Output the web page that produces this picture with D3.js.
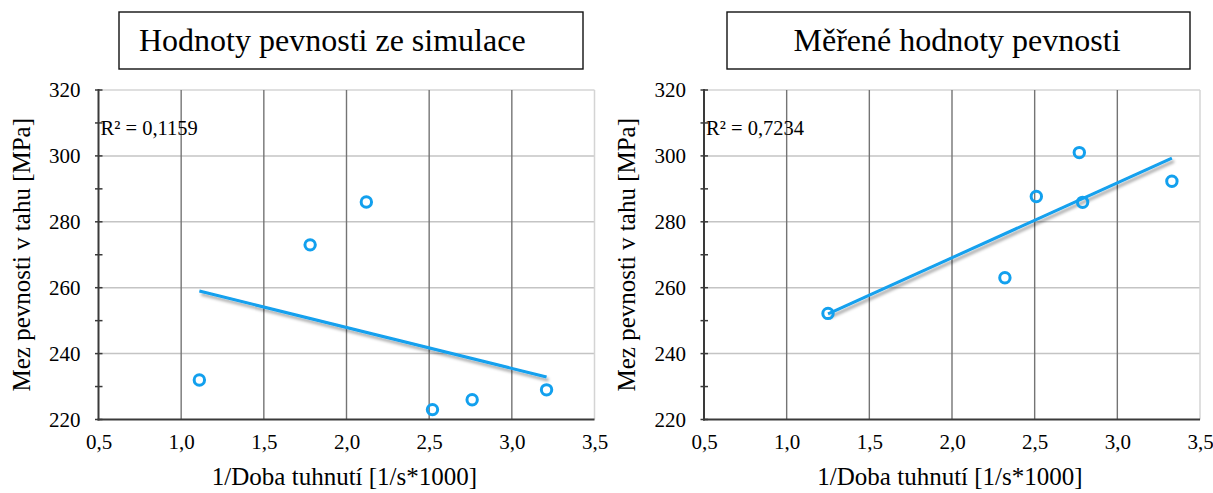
<!DOCTYPE html>
<html>
<head>
<meta charset="utf-8">
<script src="https://cdn.jsdelivr.net/npm/d3@7"></script>
<style>
  body { margin: 0; background: #fff; }
  svg { display: block; }
  text { font-family: "Liberation Serif", "Times New Roman", serif; fill: #000; }
</style>
</head>
<body>
<svg id="chart" width="1213" height="493"></svg>
<script>
// Axis ticks
const xTicks = [0.5, 1.0, 1.5, 2.0, 2.5, 3.0, 3.5];
const yTicks = [220, 240, 260, 280, 300, 320];
const yMinorTicks = [230, 250, 270, 290, 310];

// Texts
const panelTitles = ["Hodnoty pevnosti ze simulace", "Měřené hodnoty pevnosti"];
const xAxisTitle = "1/Doba tuhnutí [1/s*1000]";
const yAxisTitle = "Mez pevnosti v tahu [MPa]";
const r2Labels = ["R\u00B2 = 0,1159", "R\u00B2 = 0,7234"];

// Simulated strength vs. 1/solidification time
const simX = [1.11, 1.78, 2.12, 2.52, 2.76, 3.21];
const simY = [232, 273, 286, 223, 226, 229];

// Measured strength vs. 1/solidification time
const measX = [1.25, 2.32, 2.51, 2.77, 2.79, 3.33];
const measY = [252.2, 263, 287.7, 301, 285.9, 292.3];

const BLUE = "#12a0ee";
const SERIF = '"Liberation Serif", "Times New Roman", serif';
const svg = d3.select("#chart");
const fmt = v => d3.format(".1f")(v).replace(".", ",");

// soft shadow under the trend lines
svg.append("defs").append("filter")
  .attr("id", "trendShadow")
  .attr("filterUnits", "userSpaceOnUse")
  .attr("x", 0).attr("y", 0).attr("width", 1213).attr("height", 493)
  .append("feDropShadow")
  .attr("dx", 2).attr("dy", 3).attr("stdDeviation", 1.6)
  .attr("flood-color", "#000").attr("flood-opacity", 0.35);

// least-squares line through the points
function linearFit(xs, ys) {
  const mx = d3.mean(xs), my = d3.mean(ys);
  let sxy = 0, sxx = 0;
  xs.forEach((x, i) => { sxy += (x - mx) * (ys[i] - my); sxx += (x - mx) * (x - mx); });
  const slope = sxy / sxx;
  return x => my + slope * (x - mx);
}

const panels = [
  { title: panelTitles[0], xs: simX, ys: simY, r2: r2Labels[0],
    x0: 98.5, x1: 594.5, box: [119, 12, 464, 57], titleAnchor: "start", titleX: 139 },
  { title: panelTitles[1], xs: measX, ys: measY, r2: r2Labels[1],
    x0: 704, x1: 1200, box: [727, 12, 463, 57], titleAnchor: "middle", titleX: 957 }
];

const yTop = 90, yBottom = 419.5;

panels.forEach(p => {
  const g = svg.append("g");
  const x = d3.scaleLinear().domain([0.5, 3.5]).range([p.x0, p.x1]);
  const y = d3.scaleLinear().domain([220, 320]).range([yBottom, yTop]);

  // title box
  g.append("rect")
    .attr("x", p.box[0]).attr("y", p.box[1])
    .attr("width", p.box[2]).attr("height", p.box[3])
    .attr("fill", "#fff").attr("stroke", "#111").attr("stroke-width", 1.4);
  g.append("text")
    .attr("x", p.titleX).attr("y", 51)
    .attr("text-anchor", p.titleAnchor)
    .style("font-size", "32px")
    .text(p.title);

  // horizontal gridlines
  g.append("g").selectAll("line").data(yTicks.filter(v => v > 220))
    .join("line")
    .attr("x1", p.x0).attr("x2", p.x1)
    .attr("y1", d => y(d)).attr("y2", d => y(d))
    .attr("stroke", d => d === 320 ? "#d4d4d4" : "#c4c4c4")
    .attr("stroke-width", 1.5);

  // vertical gridlines
  g.append("g").selectAll("line").data(xTicks.filter(v => v > 0.5))
    .join("line")
    .attr("x1", d => x(d)).attr("x2", d => x(d))
    .attr("y1", yTop).attr("y2", yBottom)
    .attr("stroke", d => d === 3.5 ? "#d4d4d4" : "#747474")
    .attr("stroke-width", d => d === 3.5 ? 1.5 : 1.4);

  // axes lines
  g.append("line")
    .attr("x1", p.x0).attr("x2", p.x0).attr("y1", yTop - 1).attr("y2", yBottom + 1)
    .attr("stroke", "#3a3a3a").attr("stroke-width", 2);
  g.append("line")
    .attr("x1", p.x0 - 1).attr("x2", p.x1).attr("y1", yBottom).attr("y2", yBottom)
    .attr("stroke", "#3a3a3a").attr("stroke-width", 2);

  // cross tick marks on the value axis
  g.append("g").selectAll("line").data(yTicks.concat(yMinorTicks))
    .join("line")
    .attr("x1", p.x0 - 3.5).attr("x2", p.x0 + 4)
    .attr("y1", d => y(d)).attr("y2", d => y(d))
    .attr("stroke", "#3a3a3a").attr("stroke-width", 1.5);

  // tick labels
  const yAxis = g.append("g")
    .attr("transform", `translate(${p.x0 - 18},0)`)
    .call(d3.axisLeft(y).tickValues(yTicks).tickSize(0).tickPadding(0).tickFormat(d3.format("d")));
  yAxis.select(".domain").remove();
  yAxis.selectAll("text").style("font-size", "21px").style("font-family", SERIF).attr("fill", "#000");

  const xAxis = g.append("g")
    .attr("transform", `translate(0,${yBottom + 15})`)
    .call(d3.axisBottom(x).tickValues(xTicks).tickSize(0).tickPadding(0).tickFormat(fmt));
  xAxis.select(".domain").remove();
  xAxis.selectAll("text").style("font-size", "21px").style("font-family", SERIF).attr("fill", "#000");

  // axis titles
  g.append("text")
    .attr("x", (p.x0 + p.x1) / 2 - 2).attr("y", 485)
    .attr("text-anchor", "middle")
    .style("font-size", "25px")
    .text(xAxisTitle);
  g.append("text")
    .attr("transform", `translate(${p.x0 - 69},${(yTop + yBottom) / 2}) rotate(-90)`)
    .attr("text-anchor", "middle")
    .style("font-size", "25px")
    .text(yAxisTitle);

  // trend line
  const fit = linearFit(p.xs, p.ys);
  const [xmin, xmax] = d3.extent(p.xs);
  g.append("line")
    .attr("x1", x(xmin)).attr("y1", y(fit(xmin)))
    .attr("x2", x(xmax)).attr("y2", y(fit(xmax)))
    .attr("stroke", BLUE).attr("stroke-width", 3)
    .attr("filter", "url(#trendShadow)");

  // data points
  g.append("g").selectAll("circle").data(p.xs.map((v, i) => [v, p.ys[i]]))
    .join("circle")
    .attr("cx", d => x(d[0])).attr("cy", d => y(d[1]))
    .attr("r", 5.2)
    .attr("fill", "none").attr("stroke", BLUE).attr("stroke-width", 3);

  // coefficient of determination
  g.append("text")
    .attr("x", p.x0 + 2).attr("y", 135)
    .style("font-size", "20.5px")
    .text(p.r2);
});
</script>
</body>
</html>
